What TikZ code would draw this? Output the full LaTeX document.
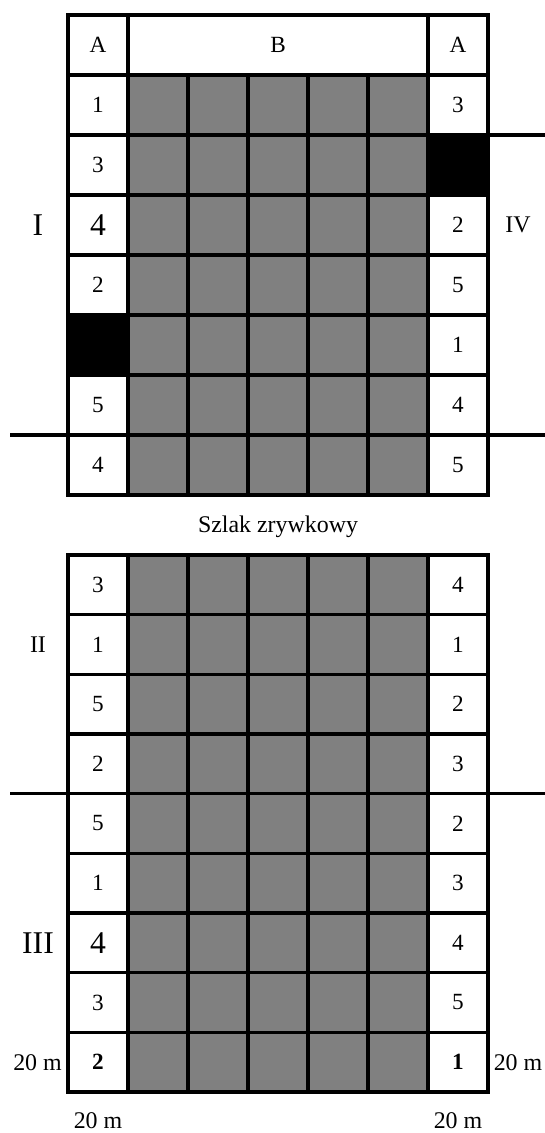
\documentclass[tikz,border=0pt]{standalone}
\usepackage{fontspec}
\setmainfont{Liberation Serif}
\usetikzlibrary{positioning}

\tikzset{
  gridline/.style={line width=2.35pt},
  plotcell/.style={fill=black!50},
  numcell/.style={inner sep=0pt, font=\fontsize{16.5}{19}\selectfont},
  bignum/.style={inner sep=0pt, font=\fontsize{22.5}{26}\selectfont},
  sidetext/.style={inner sep=0pt, font=\fontsize{17}{20}\selectfont}
}

\begin{document}
\begin{tikzpicture}[x=0.025cm, y=-0.025cm]
  \useasboundingbox (0,0) rectangle (545,1133);

  % upper block
  \fill[plotcell] (128,75) rectangle (428,495);
  \fill (428,135) rectangle (488,195);
  \fill (68,315) rectangle (128,375);
  \draw[gridline] (68,15) rectangle (488,495);
  \foreach \x in {128,428} \draw[gridline] (\x,15) -- (\x,495);
  \foreach \x in {188,248,308,368} \draw[gridline] (\x,75) -- (\x,495);
  \foreach \y in {75,135,...,435} \draw[gridline] (68,\y) -- (488,\y);

  % lower block
  \fill[plotcell] (128,555) rectangle (428,1092);
  \draw[gridline] (68,555) rectangle (488,1092);
  \foreach \x in {128,188,...,428} \draw[gridline] (\x,555) -- (\x,1092);
  \foreach \k in {1,...,8} \draw[gridline] (68,{555+59.67*\k}) -- (488,{555+59.67*\k});

  % boundary lines
  \draw[gridline] (10,435) -- (68,435);
  \draw[gridline] (488,435) -- (545,435);
  \draw[gridline] (488,135) -- (545,135);
  \draw[gridline] (10,793.7) -- (68,793.7);
  \draw[gridline] (488,793.7) -- (545,793.7);

  % header
  \node (hdrl) [numcell] at (98,45)  {A};
  \node (hdrb) [numcell] at (278,45) {B};
  \node (hdrr) [numcell] at (458,45) {A};

  % upper block numbers
  \node (t1l) [numcell] at (98,105)  {1};  \node (t1r) [numcell] at (458,105) {3};
  \node (t2l) [numcell] at (98,165)  {3};
  \node (t3l) [bignum]  at (98,225)  {4};  \node (t3r) [numcell] at (458,225) {2};
  \node (t4l) [numcell] at (98,285)  {2};  \node (t4r) [numcell] at (458,285) {5};
                                           \node (t5r) [numcell] at (458,345) {1};
  \node (t6l) [numcell] at (98,405)  {5};  \node (t6r) [numcell] at (458,405) {4};
  \node (t7l) [numcell] at (98,465)  {4};  \node (t7r) [numcell] at (458,465) {5};

  % lower block numbers
  \node (b1l) [numcell] at (98,584.8)  {3};  \node (b1r) [numcell] at (458,584.8)  {4};
  \node (b2l) [numcell] at (98,644.5)  {1};  \node (b2r) [numcell] at (458,644.5)  {1};
  \node (b3l) [numcell] at (98,704.2)  {5};  \node (b3r) [numcell] at (458,704.2)  {2};
  \node (b4l) [numcell] at (98,763.8)  {2};  \node (b4r) [numcell] at (458,763.8)  {3};
  \node (b5l) [numcell] at (98,823.5)  {5};  \node (b5r) [numcell] at (458,823.5)  {2};
  \node (b6l) [numcell] at (98,883.2)  {1};  \node (b6r) [numcell] at (458,883.2)  {3};
  \node (b7l) [bignum]  at (98,942.8)  {4};  \node (b7r) [numcell] at (458,942.8)  {4};
  \node (b8l) [numcell] at (98,1002.5) {3};  \node (b8r) [numcell] at (458,1002.5) {5};
  \node (b9l) [numcell, font=\fontsize{16.5}{19}\selectfont\bfseries] at (98,1062.2) {2};
  \node (b9r) [numcell, font=\fontsize{16.5}{19}\selectfont\bfseries] at (458,1062.2) {1};

  % side labels
  \node (secI)   [bignum] at (38,225) {I};
  \node (secIV)  [sidetext] at (518,225) {IV};
  \node (secII)  [sidetext] at (38,644.5) {II};
  \node (secIII) [bignum] at (38,942.8) {III};
  \node (trail)  [sidetext, anchor=base] at (278,532) {Szlak zrywkowy};
  \node (widl)   [sidetext] at (37.5,1062.2) {20 m};
  \node (widr)   [sidetext] at (518,1062.2) {20 m};
  \node (widbl)  [sidetext, anchor=base] at (98,1128) {20 m};
  \node (widbr)  [sidetext, anchor=base] at (458,1128) {20 m};
\end{tikzpicture}
\end{document}
